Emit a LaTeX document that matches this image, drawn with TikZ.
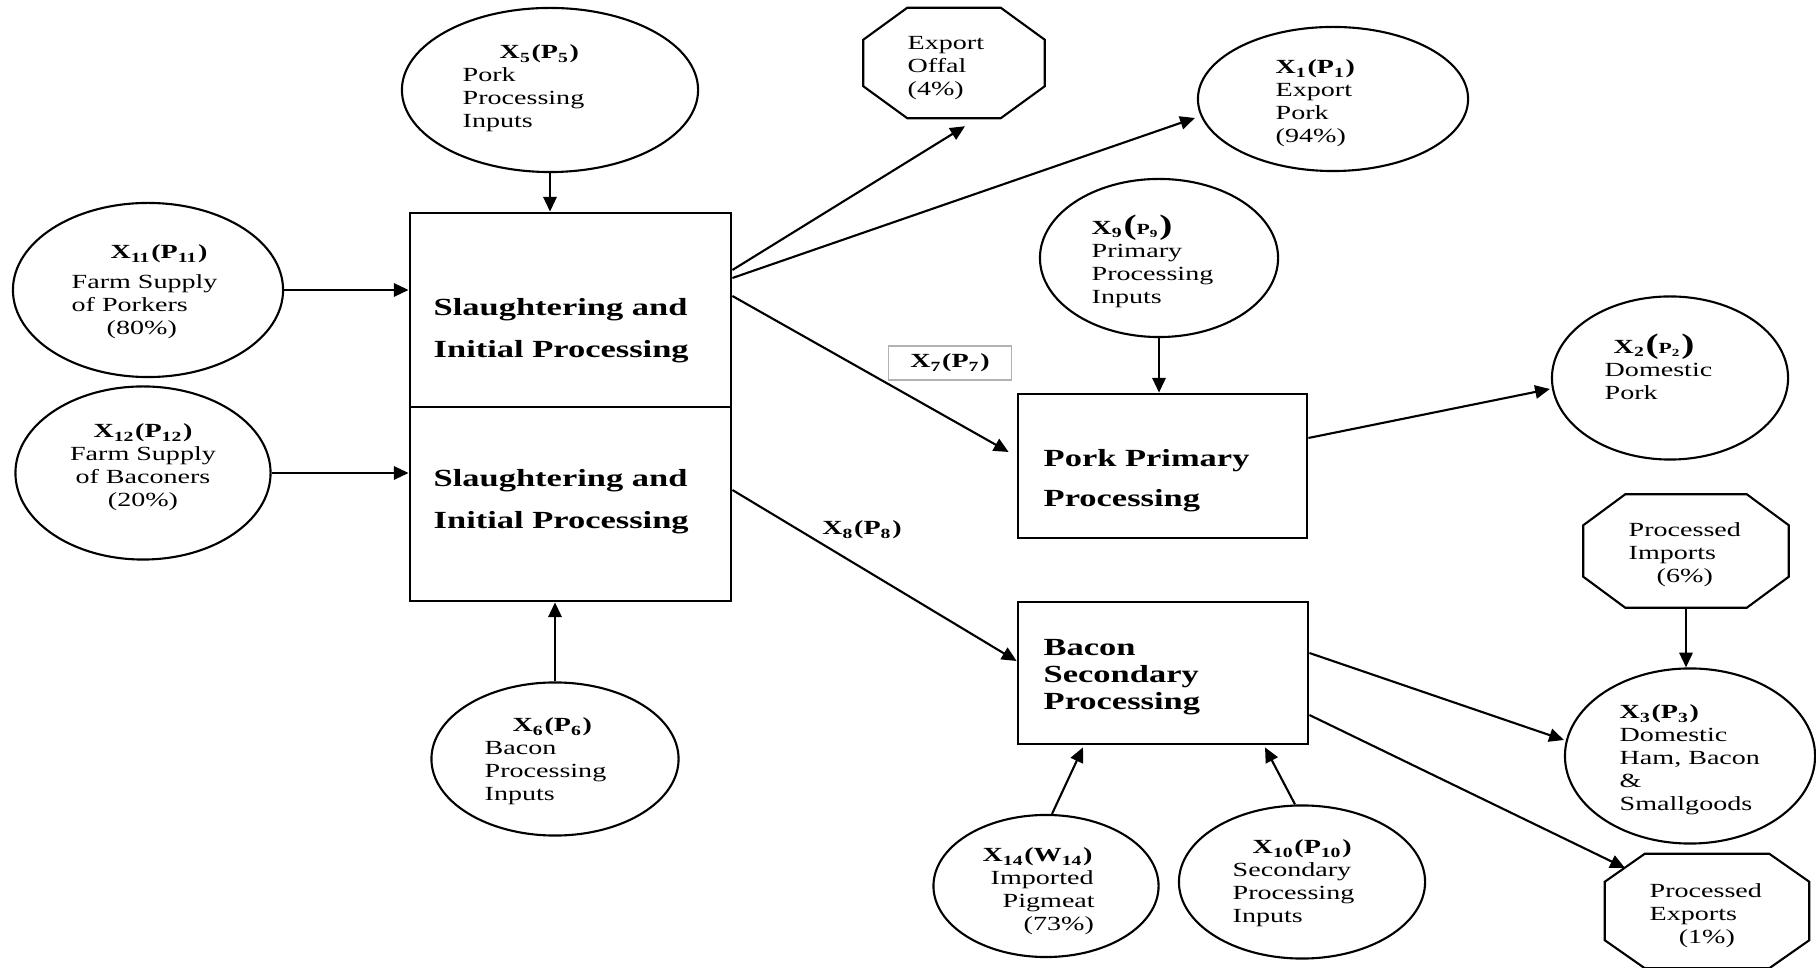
\documentclass[tikz,border=0pt]{standalone}
\usepackage{fontspec}
\setmainfont{Liberation Serif}[FakeStretch=1.4]
\usetikzlibrary{arrows.meta,shapes.geometric,calc}
% variable tags: X_i(P_i)
\newcommand\vx[3]{\textbf{X\textsubscript{#1}(#2\textsubscript{#3})}}
\newcommand\vxp[2]{\textbf{X\textsubscript{#1}{\fontsize{8}{8}\selectfont(}{\fontsize{4.4}{5}\selectfont P\textsubscript{#2}}{\fontsize{8}{8}\selectfont)}}}

\begin{document}
\begin{tikzpicture}[x=0.01cm, y=-0.01cm,
  oval/.style={ellipse, draw, line width=0.6pt, inner sep=0pt},
  octa/.style={inner sep=0pt},
  stage/.style={draw, line width=0.75pt, inner sep=0pt},
  txt/.style={anchor=north west, align=left, inner sep=0pt, font=\fontsize{5.7}{6.55}\selectfont},
  stxt/.style={anchor=north west, align=left, inner sep=0pt, font=\fontsize{7}{12}\selectfont\bfseries},
  arr/.style={-{Triangle[length=4.2pt,width=3.8pt]}, line width=0.6pt}
]
\useasboundingbox (0,0) rectangle (1816,968);

% processing stages
\node[stage, minimum width=3.21cm, minimum height=1.94cm] (slA) at (570.5,310) {};
\node[stage, minimum width=3.21cm, minimum height=1.94cm] (slB) at (570.5,504) {};
\node[stage, minimum width=2.89cm, minimum height=1.44cm] (pp) at (1162.5,466) {};
\node[stage, minimum width=2.90cm, minimum height=1.42cm] (bacon) at (1163,673) {};

\node[stxt] (slAt) at (433,298) {Slaughtering and\\Initial Processing};
\node[stxt] (slBt) at (433,469) {Slaughtering and\\Initial Processing};
\node[stxt, font=\fontsize{7}{11.4}\selectfont\bfseries] (ppt) at (1043,449) {Pork Primary\\Processing};
\node[stxt, font=\fontsize{7}{7.7}\selectfont\bfseries] (bacont) at (1043,639) {Bacon\\Secondary\\Processing};

% inputs and outputs
\node[oval, minimum width=2.96cm, minimum height=1.64cm] (x5) at (550,90) {};
\node[oval, minimum width=2.70cm, minimum height=1.74cm] (x11) at (148,290) {};
\node[oval, minimum width=2.55cm, minimum height=1.73cm] (x12) at (143,473) {};
\node[oval, minimum width=2.47cm, minimum height=1.53cm] (x6) at (555,759) {};
\node[oval, minimum width=2.70cm, minimum height=1.44cm] (x1) at (1333,99) {};
\node[oval, minimum width=2.38cm, minimum height=1.58cm] (x9) at (1159,258) {};
\node[oval, minimum width=2.36cm, minimum height=1.63cm] (x2) at (1670,378) {};
\node[oval, minimum width=2.50cm, minimum height=1.75cm] (x3) at (1690,756) {};
\node[oval, minimum width=2.25cm, minimum height=1.42cm] (x14) at (1046,886) {};
\node[oval, minimum width=2.46cm, minimum height=1.53cm] (x10) at (1302,882) {};

\node[octa, minimum width=1.80cm, minimum height=1.09cm] (offal) at (954,63) {};
\node[octa, minimum width=2.04cm, minimum height=1.12cm] (imp) at (1686,551) {};
\node[octa, minimum width=2.03cm, minimum height=1.13cm] (exp) at (1707,911) {};
% octagon outlines (name/chamfer x/chamfer y)
\foreach \n/\cx/\cy in {offal/44/32, imp/42/31, exp/40/28}
  \draw[line width=0.6pt] ($(\n.north west)+(\cx,0)$) -- ($(\n.north east)+(-\cx,0)$)
    -- ($(\n.north east)+(0,\cy)$) -- ($(\n.south east)+(0,-\cy)$)
    -- ($(\n.south east)+(-\cx,0)$) -- ($(\n.south west)+(\cx,0)$)
    -- ($(\n.south west)+(0,-\cy)$) -- ($(\n.north west)+(0,\cy)$) -- cycle;

\node[txt] (x5t) at (462,44) {\hspace*{0.37cm}\vx{5}{P}{5}\\Pork\\Processing\\Inputs};
\node[txt] (x11t) at (71,244) {\hspace*{0.39cm}\vx{11}{P}{11}\\[2pt]Farm Supply\\of Porkers\\\hspace*{0.35cm}(80\%)};
\node[txt, anchor=north, align=center] (x12t) at (143,423) {\vx{12}{P}{12}\\Farm Supply\\of Baconers\\(20\%)};
\node[txt] (x6t) at (484,717) {\hspace*{0.28cm}\vx{6}{P}{6}\\Bacon\\Processing\\Inputs};
\node[txt] (x1t) at (1275,59) {\vx{1}{P}{1}\\Export\\Pork\\(94\%)};
\node[txt] (offalt) at (907,36) {Export\\Offal\\(4\%)};
\node[txt] (x9t) at (1091,214) {\vxp{9}{9}\\Primary\\Processing\\Inputs};
\node[txt] (x2t) at (1604,333) {\hspace*{0.09cm}\vxp{2}{2}\\Domestic\\Pork};
\node[txt] (impt) at (1628,522) {Processed\\Imports\\\hspace*{0.28cm}(6\%)};
\node[txt] (x3t) at (1619,704) {\vx{3}{P}{3}\\Domestic\\Ham, Bacon\\\&\\Smallgoods};
\node[txt] (expt) at (1649,883) {Processed\\Exports\\\hspace*{0.29cm}(1\%)};
\node[txt] (x14t) at (982,847) {\vx{14}{W}{14}\\\hspace*{0.08cm}Imported\\\hspace*{0.20cm}Pigmeat\\\hspace*{0.41cm}(73\%)};
\node[txt] (x10t) at (1232,839) {\hspace*{0.20cm}\vx{10}{P}{10}\\Secondary\\Processing\\Inputs};

% flow labels
\node[draw=black!30, line width=0.4pt, minimum width=1.23cm, minimum height=0.34cm,
  inner sep=0pt, font=\fontsize{5.7}{6.55}\selectfont] (x7) at (950,363) {\vx{7}{P}{7}};
\node[inner sep=0pt, font=\fontsize{5.7}{6.55}\selectfont] (x8) at (862,530) {\vx{8}{P}{8}};

% flows
\draw[arr] (x5.south) -- (x5.south |- slA.north);
\draw[arr] (x11.east) -- (x11.east -| slA.west);
\draw[arr] (x12.east) -- (x12.east -| slB.west);
\draw[arr] (x6.north) -- (x6.north |- slB.south);
\draw[arr] ($(slA.east)+(0,-40)$) -- ($(offal.south)+(11,8)$);
\draw[arr] ($(slA.east)+(0,-32)$) -- ($(x1.west)+(-2,19)$);
\draw[arr] ($(slA.east)+(0,-14)$) -- ($(pp.west)+(-8,-14)$);
\draw[arr] ($(slB.east)+(0,-14)$) -- ($(bacon.west)+(0,-12)$);
\draw[arr] (x9.south) -- (x9.south |- pp.north);
\draw[arr] ($(pp.east)+(0,-28)$) -- ($(x2.west)+(-1,11)$);
\draw[arr] (imp.south) -- (imp.south |- x3.north);
\draw[arr] ($(bacon.east)+(0,-20)$) -- ($(x3.west)+(0,-16)$);
\draw[arr] ($(bacon.east)+(0,42)$) -- ($(exp.center)+(-82,-43)$);
\draw[arr] ($(x14.north)+(6,0)$) -- ($(bacon.south)+(-80,2)$);
\draw[arr] ($(x10.north)+(-7,0)$) -- ($(bacon.south)+(102,2)$);
\end{tikzpicture}
\end{document}
